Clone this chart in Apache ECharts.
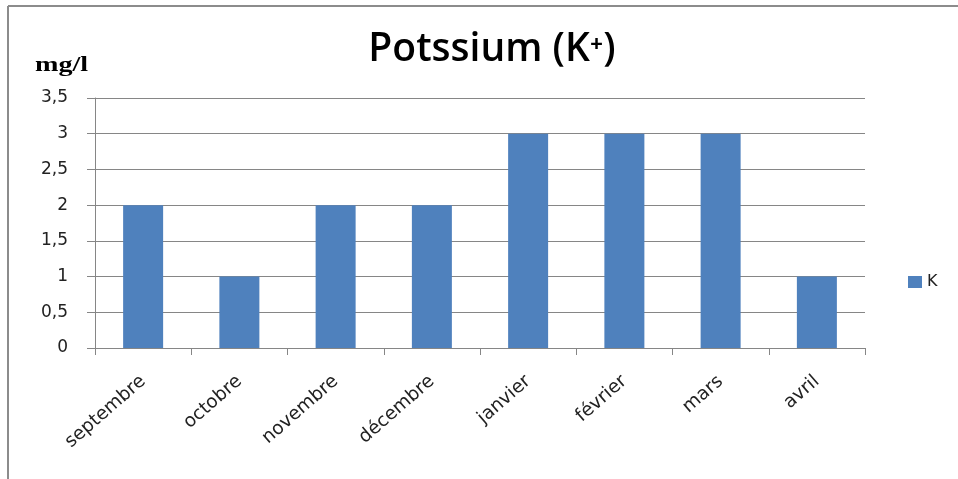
<!DOCTYPE html>
<html>
<head>
<meta charset="utf-8">
<script src="https://cdn.jsdelivr.net/npm/echarts@6/dist/echarts.min.js"></script>
<style>
html,body{margin:0;padding:0;background:#fff;}
#c{width:958px;height:479px;}
</style>
</head>
<body>
<div id="c"></div>
<script>
const categories = ['septembre','octobre','novembre','décembre','janvier','février','mars','avril'];
const valuesK = [2, 1, 2, 2, 3, 3, 3, 1];
const seriesName = 'K';
const titleText = 'Potssium (K⁺)';
const unitLabel = 'mg/l';

const chart = echarts.init(document.getElementById('c'));
chart.setOption({
  animation: false,
  backgroundColor: '#fff',
  title: {
    text: titleText,
    left: 487, top: 25, textAlign: 'center',
    textStyle: {fontFamily: 'Open Sans', fontSize: 39, fontWeight: 600, color: '#000'}
  },
  graphic: [
    {type: 'line', shape: {x1: 8, y1: 6, x2: 958, y2: 6}, style: {stroke: '#8c8c8c', lineWidth: 2}},
    {type: 'line', shape: {x1: 8, y1: 6, x2: 8, y2: 479}, style: {stroke: '#8c8c8c', lineWidth: 2}},
    {type: 'text', x: 35, y: 54, scaleX: 1.28, style: {text: unitLabel, fontFamily: 'Liberation Serif', fontWeight: 'bold', fontSize: 22, fill: '#000'}}
  ],
  legend: {
    data: [seriesName], left: 903, top: 269, itemWidth: 14, itemHeight: 12, itemGap: 5, icon: 'rect',
    textStyle: {fontFamily: 'DejaVu Sans', fontSize: 16, color: '#222'}
  },
  grid: {left: 95, right: 93, top: 98, bottom: 131},
  xAxis: {
    type: 'category', data: categories,
    axisLine: {lineStyle: {color: '#868686'}},
    axisTick: {show: true, length: 7, lineStyle: {color: '#868686'}, alignWithLabel: false},
    axisLabel: {rotate: 41, margin: 31, fontFamily: 'DejaVu Sans', fontSize: 18.5, color: '#222', interval: 0}
  },
  yAxis: {
    type: 'value', min: 0, max: 3.5, interval: 0.5,
    axisLine: {show: true, lineStyle: {color: '#868686'}},
    axisTick: {show: true, length: 8, lineStyle: {color: '#868686'}},
    splitLine: {lineStyle: {color: '#868686'}},
    axisLabel: {margin: 27, fontFamily: 'DejaVu Sans', fontSize: 17, color: '#222',
      formatter: v => String(v).replace('.', ',')}
  },
  series: [{
    name: seriesName, type: 'bar', data: valuesK, barWidth: 40,
    itemStyle: {color: '#4f81bd'}
  }]
});
</script>
</body>
</html>
